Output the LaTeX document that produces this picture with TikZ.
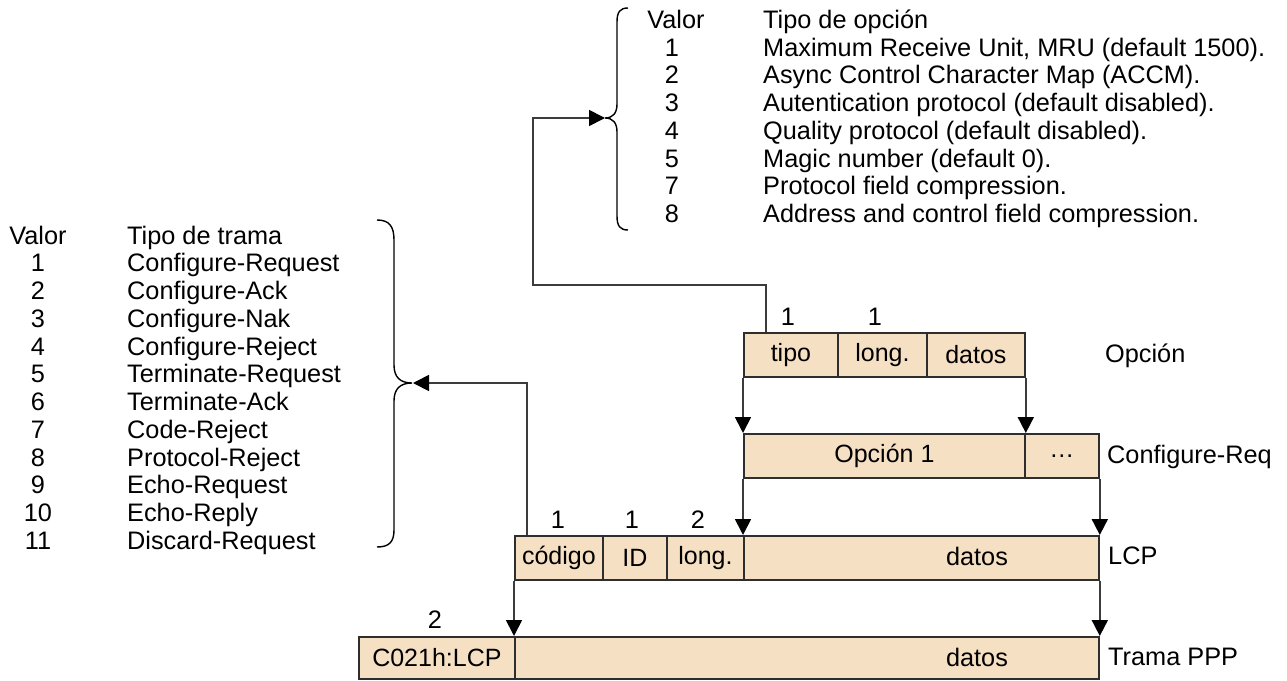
\documentclass[tikz,border=0pt]{standalone}
\usepackage{fontspec}
\setmainfont{Liberation Sans}
\usetikzlibrary{arrows.meta}
\definecolor{beige}{HTML}{F5E0C3}
\definecolor{boxline}{HTML}{2E2E2E}
\definecolor{arrline}{HTML}{3C3C3C}
\tikzset{
  cell/.style={draw=boxline, fill=beige, line width=1.8pt, inner sep=0pt, anchor=north west, minimum height=44pt, font=\fontsize{25}{28}\selectfont},
  arr/.style={draw=arrline, line width=1.8pt, -{Triangle[length=16pt,width=16pt,color=black]}},
  brace/.style={draw=black, line width=1.4pt},
  txt/.style={inner sep=0pt, anchor=base, font=\fontsize{25.3}{28}\selectfont},
  ltxt/.style={txt, anchor=base west},
}
\begin{document}
\begin{tikzpicture}[x=1pt,y=-1pt]
\useasboundingbox (0,0) rectangle (1287,680);
% ---- top list (option types)
\node[txt] (ov) at (676,28.5) {Valor};
\node[ltxt] (ot) at (763,28.5) {Tipo de opción};
\foreach \n/\t [count=\i] in {1/{Maximum Receive Unit, MRU (default 1500).},2/{Async Control Character Map (ACCM).},3/{Autentication protocol (default disabled).},4/{Quality protocol (default disabled).},5/{Magic number (default 0).},7/{Protocol field compression.},8/{Address and control field compression.}}{
  \node[txt] (on\i) at (672,28.5+27.7*\i) {\n};
  \node[ltxt] (oi\i) at (763,28.5+27.7*\i) {\t};
}
% ---- left list (frame types)
\node[txt] (tv) at (38,244) {Valor};
\node[ltxt] (tt) at (127,244) {Tipo de trama};
\foreach \n/\t [count=\i] in {1/Configure-Request,2/Configure-Ack,3/Configure-Nak,4/Configure-Reject,5/Terminate-Request,6/Terminate-Ack,7/Code-Reject,8/Protocol-Reject,9/Echo-Request,10/Echo-Reply,11/Discard-Request}{
  \node[txt] (tn\i) at (38,244+27.75*\i) {\n};
  \node[ltxt] (ti\i) at (127,244+27.75*\i) {\t};
}
% ---- braces
\draw[brace] (628,8) .. controls (620,8) and (617,12) .. (617,22) -- (617,104)
  .. controls (617,113) and (613,118) .. (605,118)
  .. controls (613,118) and (617,123) .. (617,132) -- (617,216)
  .. controls (617,226) and (620,230) .. (628,230);
\draw[brace] (377,220) .. controls (389,220) and (394,226) .. (394,240) -- (394,365)
  .. controls (394,377) and (400,383) .. (412,383)
  .. controls (400,383) and (394,389) .. (394,401) -- (394,530)
  .. controls (394,542) and (389,547) .. (377,547);
\coordinate (optTip) at (605,118);
\coordinate (lcpTip) at (413,383);
\coordinate (optBend) at (533,285);
% ---- Option
\node[cell, minimum width=94pt] (tipo) at (743,332) {tipo};
\node[cell, minimum width=89pt] (long) at (837,332) {long.};
\node[cell, minimum width=98pt] (datos) at (926,332) {datos};
\node[txt] (n1) at (788,325) {1};
\node[txt] (n2) at (875,325) {1};
\node[ltxt] (lopt) at (1105,362) {Opción};
% ---- Configure-Req
\node[cell, minimum width=281pt] (op1) at (743,433) {Opción 1};
\node[cell, minimum width=74pt] (dots) at (1024,433) {\dots};
\node[ltxt] (lcfg) at (1107,463) {Configure-Req};
% ---- LCP
\node[cell, minimum width=88pt] (cod) at (514,535) {código};
\node[cell, minimum width=64pt] (id) at (602,535) {ID};
\node[cell, minimum width=77pt] (len) at (666,535) {long.};
\node[cell, minimum width=355pt] (ldat) at (743,535) {};
\node[txt] (ldatt) at (977,565) {datos};
\node[txt] (n3) at (558,528) {1};
\node[txt] (n4) at (632,528) {1};
\node[txt] (n5) at (698,528) {2};
\node[ltxt] (llcp) at (1108,564) {LCP};
% ---- Trama PPP
\node[cell, minimum width=156pt, minimum height=42pt] (c021) at (358,636) {C021h:LCP};
\node[cell, minimum width=584pt, minimum height=42pt] (pdat) at (514,636) {};
\node[txt] (pdatt) at (977,666) {datos};
\node[txt] (n6) at (435,628) {2};
\node[ltxt] (lppp) at (1108,665) {Trama PPP};
% ---- connectors
\draw[arr] (tipo.south west) -- (op1.north west);
\draw[arr] (datos.south east) -- (op1.north east);
\draw[arr] (op1.south west) -- (ldat.north west);
\draw[arr] (dots.south east) -- (ldat.north east);
\draw[arr] (cod.south west) -- (pdat.north west);
\draw[arr] (ldat.south east) -- (pdat.north east);
\draw[arr] ([xshift=23pt]tipo.north west) |- (optBend) |- (optTip);
\draw[arr] ([xshift=13pt]cod.north west) |- (lcpTip);
\end{tikzpicture}
\end{document}
